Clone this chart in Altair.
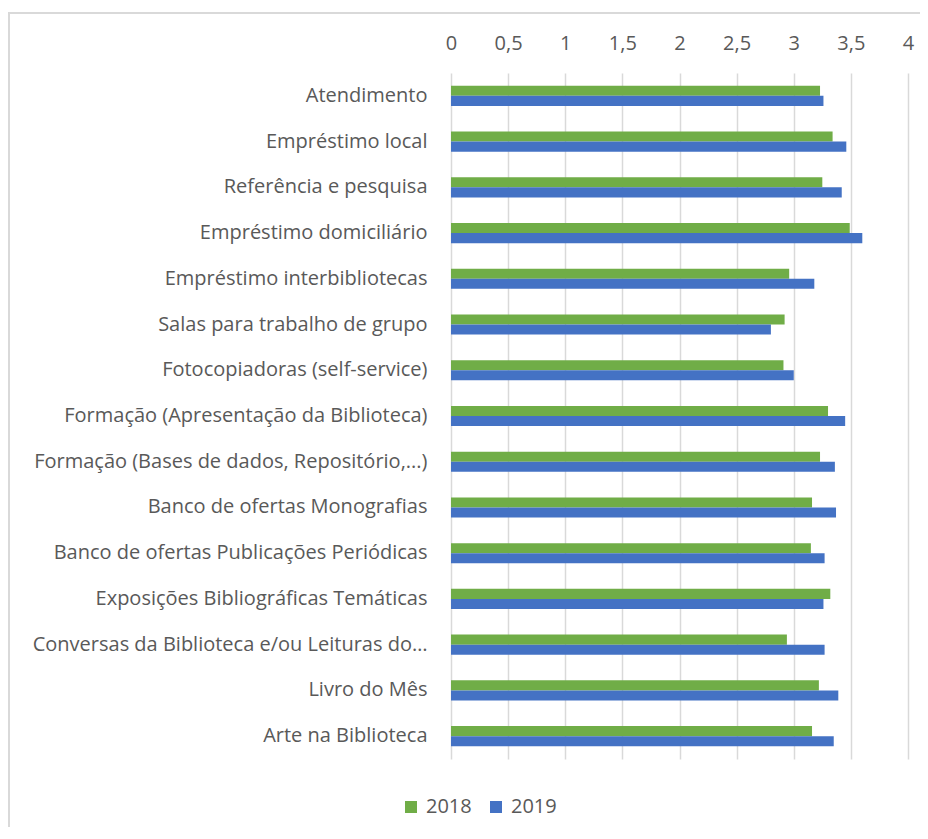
import altair as alt
import pandas as pd

categories = [
    "Atendimento",
    "Empréstimo local",
    "Referência e pesquisa",
    "Empréstimo domiciliário",
    "Empréstimo interbibliotecas",
    "Salas para trabalho de grupo",
    "Fotocopiadoras (self-service)",
    "Formação (Apresentação da Biblioteca)",
    "Formação (Bases de dados, Repositório,...)",
    "Banco de ofertas Monografias",
    "Banco de ofertas Publicações Periódicas",
    "Exposições Bibliográficas Temáticas",
    "Conversas da Biblioteca e/ou Leituras do…",
    "Livro do Mês",
    "Arte na Biblioteca",
]
values_2018 = [3.23, 3.34, 3.25, 3.49, 2.96, 2.92, 2.91, 3.30, 3.23, 3.16, 3.15, 3.32, 2.94, 3.22, 3.16]
values_2019 = [3.26, 3.46, 3.42, 3.60, 3.18, 2.80, 3.00, 3.45, 3.36, 3.37, 3.27, 3.26, 3.27, 3.39, 3.35]
years = ["2018", "2019"]
colors = ["#70AD47", "#4472C4"]
x_ticks = [0, 0.5, 1, 1.5, 2, 2.5, 3, 3.5, 4]

rows = []
for c, a, b in zip(categories, values_2018, values_2019):
    rows.append({"cat": c, "year": years[0], "value": a})
    rows.append({"cat": c, "year": years[1], "value": b})
df = pd.DataFrame(rows)

FONT = "Open Sans"
TXT = "#595959"
FS = 20

bars = alt.Chart(df).mark_bar().encode(
    x=alt.X("value:Q",
            scale=alt.Scale(domain=[0, 4], nice=False),
            axis=alt.Axis(orient="top", values=x_ticks, title=None, domain=False, ticks=False,
                          labelExpr="replace(toString(datum.value), '.', ',')",
                          labelFlush=False,
                          labelFontSize=FS, labelColor=TXT, labelFont=FONT, labelPadding=20,
                          grid=True, gridColor="#d9d9d9", gridWidth=1.5)),
    y=alt.Y("cat:N", sort=categories,
            scale=alt.Scale(paddingInner=0.56, paddingOuter=0.28),
            axis=alt.Axis(title=None, domain=False, ticks=False, labelFontSize=FS,
                          labelColor=TXT, labelFont=FONT, labelPadding=24, labelLimit=600)),
    yOffset=alt.YOffset("year:N", sort=years, scale=alt.Scale(paddingInner=0, paddingOuter=0)),
    color=alt.Color("year:N", sort=years,
                    scale=alt.Scale(domain=years, range=colors),
                    legend=alt.Legend(title=None, orient="none", direction="horizontal",
                                      legendX=-50, legendY=724, symbolType="square",
                                      symbolSize=144, symbolStrokeWidth=0,
                                      labelFontSize=FS, labelColor=TXT, labelFont=FONT,
                                      labelOffset=5, columnPadding=14)),
)

border_left = alt.Chart(df).mark_rule(color="#d9d9d9", strokeWidth=1.5).encode(
    x=alt.value(-442.2), y=alt.value(-60), y2=alt.value(780))
border_top = alt.Chart(df).mark_rule(color="#d9d9d9", strokeWidth=1.5).encode(
    x=alt.value(-442.2), x2=alt.value(470), y=alt.value(-60))

chart = alt.layer(border_left, border_top, bars).properties(
    width=457, height=686,
    autosize=alt.AutoSizeParams(type="none"),
    padding={"left": 443, "top": 65, "right": 12, "bottom": 68},
).configure_view(stroke=None)

chart.save("out.html", embed_options={"renderer": "svg", "actions": False})
